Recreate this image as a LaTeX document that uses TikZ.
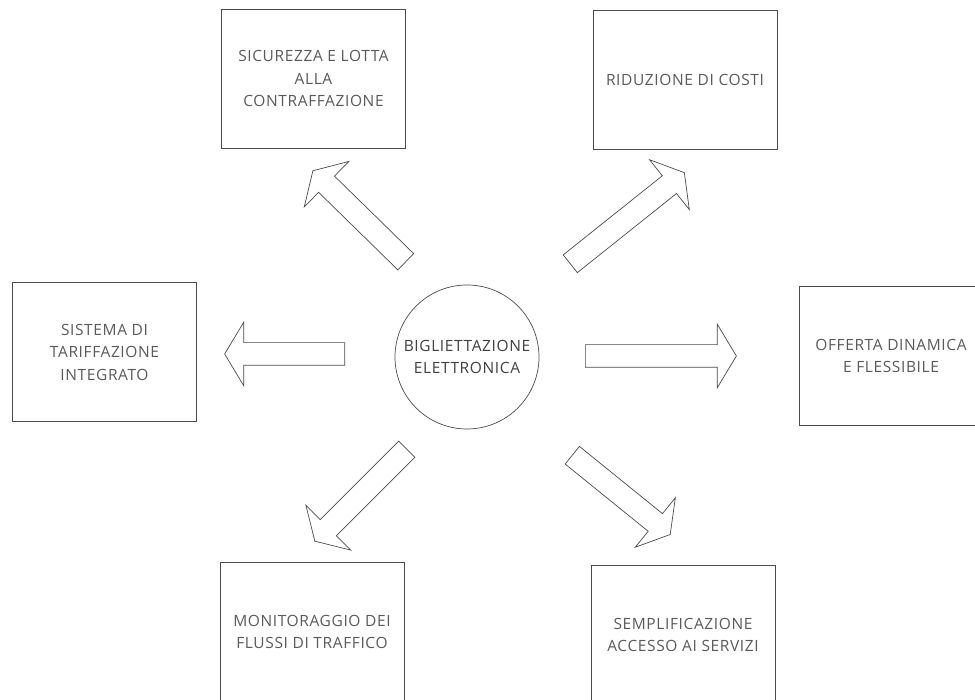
\documentclass[tikz,border=0pt]{standalone}
\usepackage{fontspec}
\setmainfont{Open Sans}[LetterSpace=4]
\usetikzlibrary{shapes.arrows}

\definecolor{linegray}{HTML}{4A4A4A}
\definecolor{textgray}{HTML}{5A5A5A}

\begin{document}
\begin{tikzpicture}[x=1pt,y=1pt,
  box/.style={draw=linegray, line width=0.7pt, minimum width=184pt, minimum height=139pt,
    align=center, text=textgray, font=\fontsize{15.5}{22.5}\selectfont},
  hubnode/.style={circle, draw=linegray, line width=0.7pt, minimum size=144pt,
    align=center, text=black!75, font=\fontsize{15.5}{22.5}\selectfont},
  blockarrow/.style={single arrow, draw=linegray, line width=0.7pt, inner xsep=0pt, inner ysep=11pt,
    single arrow head extend=20.5pt, single arrow tip angle=118, anchor=tail}]
\useasboundingbox (0,0) rectangle (975,700);

% centre
\node[hubnode] (hub) at (467,343) {BIGLIETTAZIONE\\ELETTRONICA};

% the six boxes
\node[box] (sicurezza) at (313.5,621.5) {SICUREZZA E LOTTA\\ALLA\\CONTRAFFAZIONE};
\node[box] (costi) at (685,620) {RIDUZIONE DI COSTI};
\node[box] (tariffe) at (104.5,348) {SISTEMA DI\\TARIFFAZIONE\\INTEGRATO};
\node[box] (offerta) at (891,344) {OFFERTA DINAMICA\\E FLESSIBILE};
\node[box] (flussi) at (312,68) {MONITORAGGIO DEI\\FLUSSI DI TRAFFICO};
\node[box] (servizi) at (683,65) {SEMPLIFICAZIONE\\ACCESSO AI SERVIZI};

% block arrows going out of the centre
\node[blockarrow, rotate=135.6, minimum height=130pt] (to-sicurezza) at (406,438) {};
\node[blockarrow, rotate=38.6, minimum height=146pt] (to-costi) at (570,436) {};
\node[blockarrow, rotate=180, minimum height=120pt] (to-tariffe) at (345,346) {};
\node[blockarrow, rotate=0, minimum height=151pt] (to-offerta) at (585,344) {};
\node[blockarrow, rotate=225, minimum height=130pt] (to-flussi) at (407,251) {};
\node[blockarrow, rotate=-39, minimum height=126pt] (to-servizi) at (572,245) {};

\end{tikzpicture}
\end{document}
